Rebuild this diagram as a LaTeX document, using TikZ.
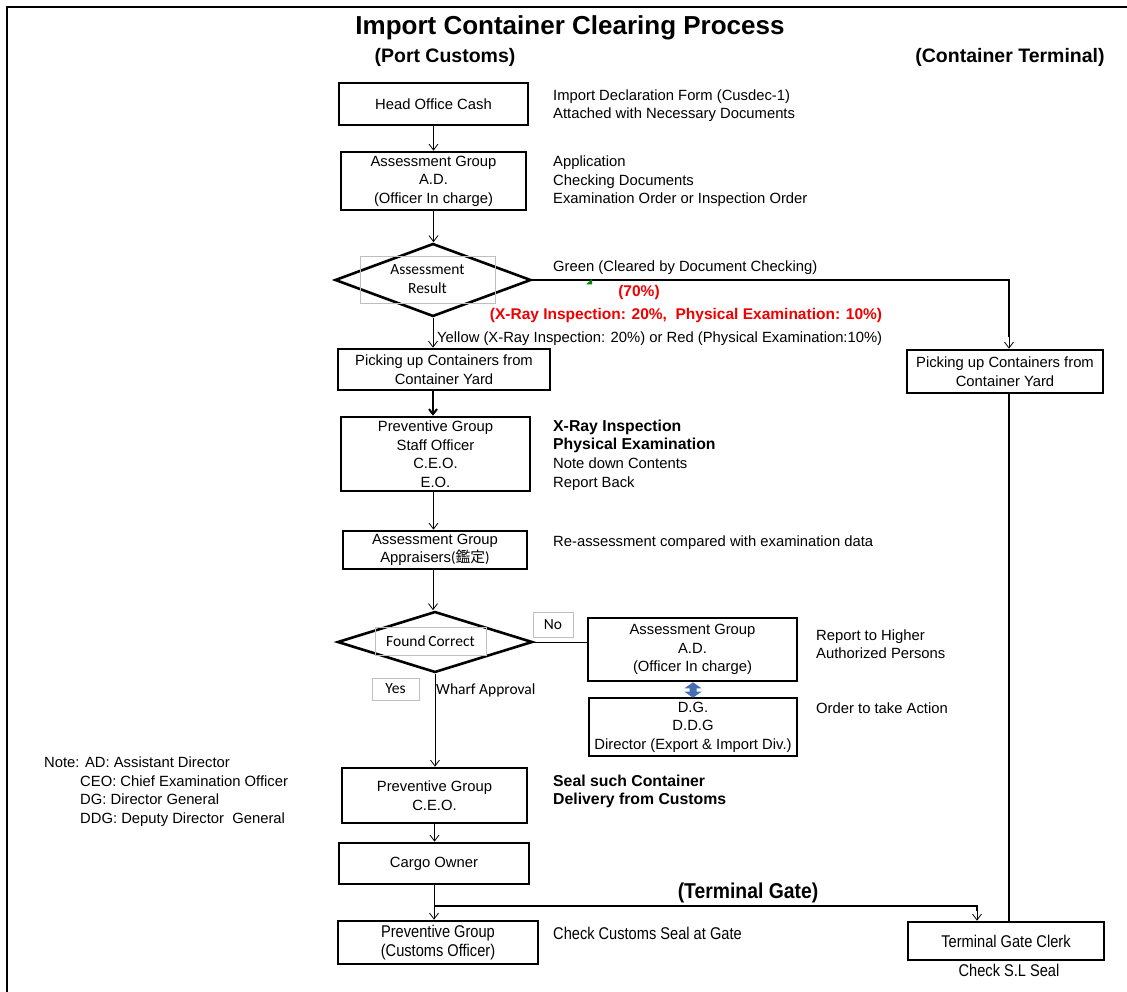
\documentclass[tikz,border=0pt]{standalone}
\usepackage{fontspec}
\setmainfont{Liberation Sans}
\newfontfamily\calfont{Carlito}
\newfontfamily\narrowfont[FakeStretch=0.86]{Liberation Sans}
\newfontfamily\gatefont[FakeStretch=0.9]{Liberation Sans}
\newfontfamily\cjkfont{Noto Sans CJK JP}
\usetikzlibrary{arrows.meta,shapes.geometric,calc}
\newcommand{\bx}{\fontsize{14.8}{18.5}\selectfont}
\newcommand{\cbx}{\calfont\fontsize{15.5}{19}\selectfont}
\newcommand{\nbx}{\narrowfont\fontsize{17}{19}\selectfont}
\newcommand{\bbx}{\bfseries\fontsize{15.8}{18.8}\selectfont}
\definecolor{redtext}{RGB}{240,0,0}
\definecolor{linkblue}{RGB}{70,110,180}
\definecolor{greenmark}{RGB}{0,140,0}
\tikzset{
  box/.style={draw, line width=2.6pt, align=center, inner sep=0pt, font=\bx},
  decide/.style={draw, diamond, line width=2.6pt, inner sep=0pt},
  lab/.style={anchor=west, inner sep=0pt, align=left, font=\bx},
  tag/.style={draw=black!25, line width=0.8pt, inner sep=0pt, align=center, font=\cbx},
  arr/.style={-{Straight Barb[length=6pt,width=9pt]}, line width=0.8pt},
  flow/.style={line width=0.8pt},
  heavy/.style={line width=2pt}
}
\begin{document}
\begin{tikzpicture}[x=1pt,y=-1pt]
\useasboundingbox (0,0) rectangle (1127,992);
% outer frame (top and left edges)
\draw[line width=1.5pt] (7,992) -- (7,7) -- (1127,7);

% headings
\node[inner sep=0pt, font=\bfseries\fontsize{26}{30}\selectfont] (title) at (570,28) {Import Container Clearing Process};
\node[inner sep=0pt, font=\bfseries\fontsize{19.5}{22}\selectfont] (hpc) at (445,57) {(Port Customs)};
\node[inner sep=0pt, font=\bfseries\fontsize{19.5}{22}\selectfont] (hct) at (1010,57) {(Container Terminal)};

% main column
\node[box, minimum width=189, minimum height=42] (hoc) at (433.5,104) {Head Office Cash};
\node[box, minimum width=185, minimum height=58] (ag1) at (433.5,181) {Assessment Group\\A.D.\\(Officer In charge)};
\node[decide, minimum width=196, minimum height=73] (d1) at (433,280) {};
\node[tag, minimum width=135, minimum height=47] (d1t) at (427.5,279.5) {Assessment\\Result};
\node[box, minimum width=212, minimum height=41] (pk1) at (444,369.5) {Picking up Containers from\\Container Yard};
\node[box, minimum width=189, minimum height=74] (pg1) at (435.5,454) {Preventive Group\\Staff Officer\\C.E.O.\\E.O.};
\node[box, minimum width=184, minimum height=38] (ag2) at (435,550) {Assessment Group\\Appraisers{\calfont(}{\cjkfont 鑑定}{\calfont)}};
\node[decide, minimum width=195, minimum height=61] (d2) at (435,642) {};
\node[tag, minimum width=111, minimum height=28] (d2t) at (430.5,641) {Found\,Correct};
\node[tag, minimum width=40, minimum height=25] (no) at (553,624.5) {No};
\node[tag, minimum width=47, minimum height=22] (yes) at (395.5,689) {Yes};
\node[box, minimum width=185, minimum height=55] (pg2) at (434.5,795.5) {Preventive Group\\C.E.O.};
\node[box, minimum width=190, minimum height=41] (co) at (434,863.5) {Cargo Owner};
\node[box, font=\nbx, minimum width=200, minimum height=43] (pg3) at (438,942.5) {Preventive Group\\(Customs Officer)};

% escalation boxes
\node[box, minimum width=209, minimum height=63] (ag3) at (692.5,649.5) {Assessment Group\\A.D.\\(Officer In charge)};
\node[box, minimum width=208, minimum height=58] (dg) at (693,727) {D.G.\\D.D.G\\Director (Export \& Import Div.)};

% container terminal column
\node[box, minimum width=196, minimum height=43] (pk2) at (1005,371.5) {Picking up Containers from\\Container Yard};
\node[box, font=\nbx, minimum width=196, minimum height=38] (tgc) at (1006,941) {Terminal Gate Clerk};

% side notes
\node[lab] (n1) at (553,105.5) {Import Declaration Form (Cusdec-1)\\Attached with Necessary Documents};
\node[lab] (n2) at (553,181.5) {Application\\Checking Documents\\Examination Order or Inspection Order};
\node[lab] (n3) at (553,268) {Green (Cleared by Document Checking)};
\node[inner sep=0pt, text=redtext, font=\bfseries\fontsize{15.5}{18}\selectfont] (n4) at (639,292) {(70\%)};
\node[inner sep=0pt, text=redtext, font=\bfseries\fontsize{15.5}{18}\selectfont] (n5) at (686,315) {(X-Ray Inspection: 20\%,\ \ Physical Examination: 10\%)};
\node[lab] (n6) at (437,339) {Yellow (X-Ray Inspection: 20\%) or Red (Physical Examination:10\%)};
\node[lab, font=\bbx] (n7) at (553,436.5) {X-Ray Inspection\\Physical Examination};
\node[lab] (n8) at (553,474) {Note down Contents\\Report Back};
\node[lab] (n9) at (553,543) {Re-assessment compared with examination data};
\node[lab] (n10) at (816,644) {Report to Higher\\Authorized Persons};
\node[lab] (n11) at (816,708) {Order to take Action};
\node[lab, font=\cbx] (n12) at (436,690) {Wharf Approval};
\node[lab, font=\bbx] (n13) at (553,791.5) {Seal such Container\\Delivery from Customs};
\node[lab, font=\nbx] (n14) at (553,933) {Check Customs Seal at Gate};
\node[inner sep=0pt, font=\nbx] (n15) at (1009,970) {Check S.L Seal};
\node[inner sep=0pt, font=\gatefont\bfseries\fontsize{21.5}{24}\selectfont] (n16) at (748,893) {(Terminal Gate)};
\node[lab] (note) at (44,791.5) {Note: AD: Assistant Director\\
\hspace*{36pt}CEO: Chief Examination Officer\\
\hspace*{36pt}DG: Director General\\
\hspace*{36pt}DDG: Deputy Director\ \ General};

% anchor points for connectors that leave a box off-centre
\coordinate (pk1s) at ($(pk1.south)+(-11,0)$);
\coordinate (pg1s) at ($(pg1.south)+(-2,0)$);
\coordinate (ag2s) at ($(ag2.south)+(-2,0)$);
\coordinate (pk2n) at ($(pk2.north)+(4,0)$);
\coordinate (pk2s) at ($(pk2.south)+(4,0)$);
\coordinate (pk2a) at ($(pk2.north)+(4,-12)$);
\coordinate (tgin) at ($(tgc.north)+(-29,0)$);
\coordinate (tgab) at ($(tgc.north)+(-29,-10)$);
\coordinate (tg) at ($(co.south)+(0,21)$);
\coordinate (bt) at (ag3.south -| dg.north);
\coordinate (bb) at ($(dg.north)+(0,1)$);

% connectors
\draw[arr] (hoc.south) -- (hoc.south |- ag1.north);
\draw[arr] (ag1.south) -- (ag1.south |- d1.north);
\draw[arr] (d1.south) -- (d1.south |- pk1.north);
\draw[heavy] (d1.east) -| (pk2a);
\draw[arr] (pk2a) -- (pk2n);
\fill[greenmark] (586,284.5) -- (592,279) -- (592,284.5) -- cycle;
\draw[heavy, -{Straight Barb[length=5pt,width=8pt]}] (pk1s) -- (pk1s |- pg1.north);
\draw[arr] (pg1s) -- (pg1s |- ag2.north);
\draw[arr] (ag2s) -- (ag2s |- d2.north);
\draw[flow] (d2.east) -- (d2.east -| ag3.west);
% two-way link between the A.D. box and the D.G. box
\fill[linkblue] (bt) -- ($(bt)+(8.5,6)$) -- ($(bt)+(3.5,6)$) -- ($(bb)+(3.5,-6)$)
  -- ($(bb)+(8.5,-6)$) -- (bb) -- ($(bb)+(-8.5,-6)$) -- ($(bb)+(-3.5,-6)$)
  -- ($(bt)+(-3.5,6)$) -- ($(bt)+(-8.5,6)$) -- cycle;
\draw[arr] (d2.south) -- (d2.south |- pg2.north);
\draw[arr] (pg2.south) -- (pg2.south |- co.north);
\draw[arr] (co.south) -- (co.south |- pg3.north);
\draw[heavy] (tg) -| (tgab);
\draw[arr] (tgab) -- (tgin);
\draw[line width=1.5pt] (pk2s) -- (pk2s |- tgc.north);
\end{tikzpicture}
\end{document}
